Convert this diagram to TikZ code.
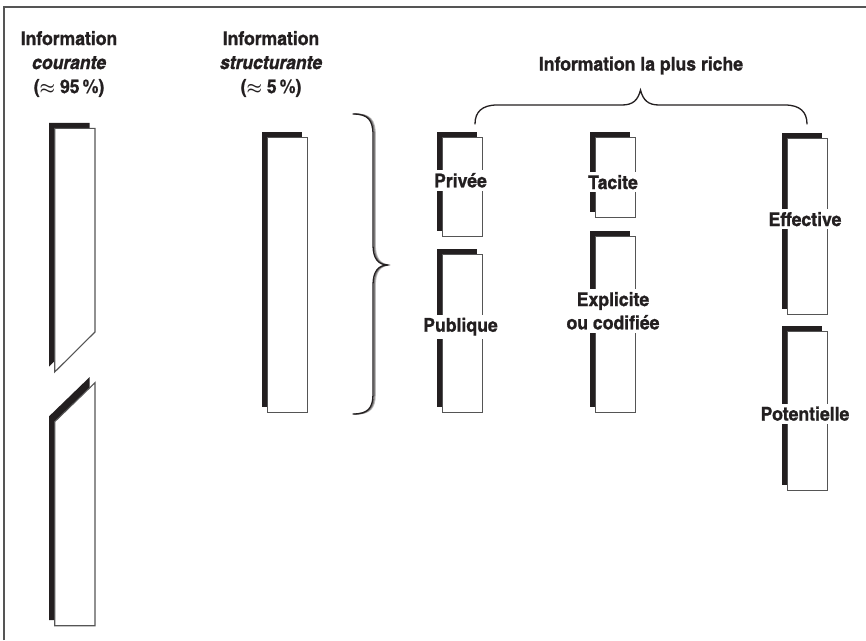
\documentclass[tikz,border=0pt]{standalone}
\usepackage{fontspec}
\setmainfont{texgyreheroscn-regular.otf}[
  BoldFont=texgyreheroscn-bold.otf,
  ItalicFont=texgyreheroscn-italic.otf,
  BoldItalicFont=texgyreheroscn-bolditalic.otf,
  BoldFeatures={FakeStretch=1.13, FakeBold=1},
  BoldItalicFeatures={FakeStretch=1.13, FakeBold=1}]
\usetikzlibrary{shadows}
\definecolor{ink}{HTML}{231F20}
\definecolor{rim}{HTML}{555555}

\begin{document}
\begin{tikzpicture}[x=1pt,y=-1pt,
  slab/.style={draw=rim, line width=1.1pt, fill=white, inner sep=0pt,
    anchor=north west,
    general shadow={fill=ink, shadow xshift=-5.5pt, shadow yshift=5.5pt}},
  txt/.style={font=\fontsize{19}{23}\selectfont\bfseries\boldmath,
    text=ink, inner sep=0pt, anchor=base},
  lbl/.style={txt, fill=white, inner xsep=1.5pt, inner ysep=3pt},
  bracestroke/.style={line width=1.3pt, line cap=round}]

\useasboundingbox (0,0) rectangle (866,640);

% frame (left and top edges)
\draw[rim, line width=1.5pt] (4,640) -- (4,7) -- (866,7);

% ---- column 1: current information, broken slab ----
\fill[ink] (49.2,122.8) -- (89.5,122.8) -- (89.5,326.5) -- (49.2,366.5) -- cycle;
\filldraw[fill=white, draw=rim, line width=1.1pt]
  (54.7,128.3) -- (95,128.3) -- (95,332) -- (54.7,372) -- cycle;
\fill[ink] (49.2,416.2) -- (89.5,377.2) -- (89.5,620.2) -- (49.2,620.2) -- cycle;
\filldraw[fill=white, draw=rim, line width=1.1pt]
  (54.7,421.7) -- (95,382.7) -- (95,625.7) -- (54.7,625.7) -- cycle;

\node[txt] (cA1) at (69,45) {Information};
\node[txt] (cA2) at (69,69) {\itshape courante};
\node[txt] (cA3) at (69,93) {(\(\approx\) 95\,\%)};

% ---- column 2: structuring information ----
\node[slab, minimum width=40.6pt, minimum height=275pt] (struct) at (266.7,136.7) {};
\node[txt] (cB1) at (271,45) {Information};
\node[txt] (cB2) at (271,69) {\itshape structurante};
\node[txt] (cB3) at (271,93) {(\(\approx\) 5\,\%)};

% vertical brace with soft shading
\foreach \dx/\shade in {2.2/30, 1.2/60, 0/100}{
  \draw[bracestroke, ink!\shade, xshift=\dx pt]
    (353,114) .. controls (368,114) and (373,120) .. (373,135)
    -- (373,245) .. controls (373,258) and (378,265) .. (388,265)
    .. controls (378,265) and (373,272) .. (373,285)
    -- (373,394) .. controls (373,408) and (368,414) .. (353,414);
}

% ---- richest information ----
\node[txt] (rich) at (641,70.5) {Information la plus riche};
\draw[bracestroke, ink]
  (475,124) .. controls (475,112) and (482,105) .. (497,105)
  -- (622,105) .. controls (633,105) and (638,100) .. (640.5,90)
  .. controls (643,100) and (648,105) .. (659,105)
  -- (785,105) .. controls (800,105) and (807,112) .. (807,124);

\node[slab, minimum width=40pt, minimum height=98.4pt] (privee) at (442.3,137.3) {};
\node[slab, minimum width=40pt, minimum height=158pt] (publique) at (442.3,254.3) {};
\node[slab, minimum width=40.5pt, minimum height=79.4pt] (tacite) at (594.5,137.3) {};
\node[slab, minimum width=40pt, minimum height=176.3pt] (explicite) at (595,236) {};
\node[slab, minimum width=40pt, minimum height=176.5pt] (effective) at (787,137.8) {};
\node[slab, minimum width=40pt, minimum height=159.3pt] (potentielle) at (787,330.7) {};

\node[lbl] (lPrivee) at (460.5,187.3) {Privée};
\node[lbl] (lPublique) at (460.5,331.7) {Publique};
\node[lbl] (lTacite) at (613,189) {Tacite};
\node[lbl] (lExplicite) at (613,306) {Explicite};
\node[lbl] (lCodifiee) at (613,329.3) {ou codifiée};
\node[lbl] (lEffective) at (805,226) {Effective};
\node[lbl] (lPotentielle) at (805,420.5) {Potentielle};

\end{tikzpicture}
\end{document}
